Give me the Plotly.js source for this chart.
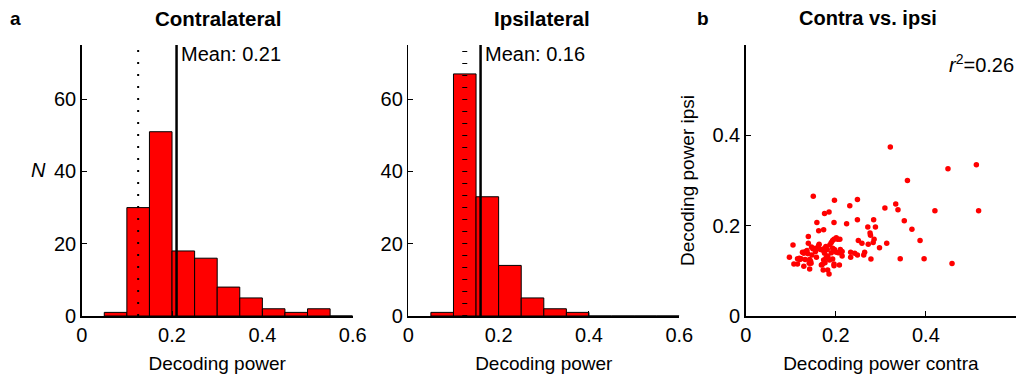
<!DOCTYPE html>
<html>
<head>
<meta charset="utf-8">
<script src="https://cdn.plot.ly/plotly-3.0.1.min.js"></script>
<style>html,body{margin:0;padding:0;background:#fff;}#chart{width:1019px;height:379px;}</style>
</head>
<body>
<div id="chart"></div>
<script>
// ---- data ----
const binCenters = [0.075, 0.125, 0.175, 0.225, 0.275, 0.325, 0.375, 0.425, 0.475, 0.525, 0.575];
const contraCounts = [1, 30, 51, 18, 16, 8, 5, 2, 1, 2, 0];
const ipsiCounts = [1, 67, 33, 14, 5, 2, 1, 0, 0, 0, 0];
const contraMean = 0.21;
const ipsiMean = 0.16;
const chanceLevel = 0.125;
const histTicksX = [0, 0.2, 0.4, 0.6];
const histTicksY = [0, 20, 40, 60];
const scatterTicks = [0, 0.2, 0.4];
const scatterContra = [0.321,0.449,0.512,0.359,0.150,0.197,0.248,0.231,0.333,0.309,0.338,0.420,0.517,0.175,0.185,0.158,0.196,0.224,0.248,0.284,0.352,0.271,0.288,0.369,0.162,0.173,0.276,0.277,0.387,0.285,0.250,0.258,0.272,0.283,0.313,0.297,0.105,0.139,0.139,0.343,0.396,0.458,0.278,0.233,0.233,0.242,0.248,0.262,0.264,0.214,0.214,0.208,0.196,0.196,0.185,0.182,0.172,0.170,0.097,0.107,0.115,0.120,0.123,0.129,0.126,0.132,0.138,0.142,0.141,0.145,0.142,0.146,0.149,0.155,0.157,0.163,0.166,0.172,0.175,0.178,0.181,0.178,0.182,0.187,0.190,0.193,0.196,0.201,0.204,0.209,0.193,0.186,0.193,0.197,0.201,0.162,0.147,0.132,0.115,0.173,0.119,0.136,0.144,0.155,0.175,0.182,0.210,0.206,0.168,0.129,0.190,0.176];
const scatterIpsi = [0.374,0.326,0.335,0.300,0.265,0.256,0.258,0.244,0.248,0.239,0.235,0.233,0.233,0.227,0.230,0.207,0.207,0.204,0.213,0.213,0.211,0.197,0.197,0.192,0.189,0.191,0.184,0.179,0.167,0.170,0.167,0.161,0.159,0.163,0.161,0.151,0.157,0.176,0.161,0.127,0.127,0.116,0.126,0.130,0.141,0.139,0.135,0.135,0.141,0.143,0.133,0.113,0.115,0.111,0.093,0.102,0.102,0.114,0.130,0.115,0.115,0.125,0.127,0.110,0.141,0.142,0.138,0.125,0.117,0.117,0.104,0.153,0.149,0.143,0.130,0.159,0.147,0.145,0.139,0.154,0.147,0.128,0.133,0.158,0.163,0.167,0.170,0.173,0.170,0.170,0.150,0.124,0.126,0.147,0.141,0.156,0.135,0.125,0.127,0.124,0.128,0.145,0.121,0.150,0.150,0.131,0.147,0.140,0.113,0.139,0.140,0.118];
const r2Text = '<i>r</i><sup>2</sup>=0.26';

const FONT = 'Liberation Sans, Arial, sans-serif';
const histTop = 75;

function histTrace(counts, xa, ya) {
  return {type: 'bar', x: binCenters, y: counts, width: 0.05, xaxis: xa, yaxis: ya,
    marker: {color: '#ff0000', line: {color: '#000', width: 1}}, hoverinfo: 'skip', showlegend: false};
}
function vline(x, xa, ya, dash, w) {
  return {type: 'scatter', mode: 'lines', x: [x, x], y: [0, histTop], xaxis: xa, yaxis: ya,
    line: {color: '#000', width: w, dash: dash}, hoverinfo: 'skip', showlegend: false};
}

const traces = [
  histTrace(contraCounts, 'x', 'y'),
  vline(chanceLevel, 'x', 'y', '2px,10px', 2),
  vline(contraMean, 'x', 'y', 'solid', 2.5),
  histTrace(ipsiCounts, 'x2', 'y2'),
  vline(chanceLevel, 'x2', 'y2', '1px,11px', 5),
  vline(ipsiMean, 'x2', 'y2', 'solid', 2.5),
  {type: 'scatter', mode: 'markers', x: scatterContra, y: scatterIpsi, xaxis: 'x3', yaxis: 'y3',
   marker: {color: '#ff0000', size: 5.5}, hoverinfo: 'skip', showlegend: false}
];

const W = 1019, H = 379;
const yDom = [1 - 316 / H, 1 - 45 / H];
function ax(dom, range, tickvals, extra) {
  return Object.assign({domain: dom, range: range, tickvals: tickvals, ticks: 'inside', ticklen: 5,
    tickwidth: 1, tickcolor: '#000', showline: true, linecolor: '#000', linewidth: 1.5,
    showgrid: false, zeroline: false, fixedrange: true,
    tickfont: {family: FONT, size: 20, color: '#000'}}, extra || {});
}
const axTitle = (t) => ({text: t, font: {family: FONT, size: 19, color: '#000'}, standoff: 12});

const layout = {
  width: W, height: H, margin: {l: 0, r: 0, t: 0, b: 0},
  paper_bgcolor: '#fff', plot_bgcolor: 'rgba(0,0,0,0)', bargap: 0,
  font: {family: FONT, color: '#000'},
  xaxis: ax([81.7 / W, 352.7 / W], [0, 0.6], histTicksX, {anchor: 'y', title: axTitle('Decoding power')}),
  yaxis: ax(yDom, [0, histTop], histTicksY, {anchor: 'x'}),
  xaxis2: ax([408.3 / W, 679.3 / W], [0, 0.6], histTicksX, {anchor: 'y2', title: axTitle('Decoding power')}),
  yaxis2: ax(yDom, [0, histTop], histTicksY, {anchor: 'x2'}),
  xaxis3: ax([745.7 / W, 1016 / W], [0, 0.6], scatterTicks, {anchor: 'y3', title: axTitle('Decoding power contra')}),
  yaxis3: ax(yDom, [0, 0.6], scatterTicks, {anchor: 'x3', title: axTitle('Decoding power ipsi')}),
  annotations: [
    {text: '<b>a</b>', xref: 'paper', yref: 'paper', x: 15 / W, y: 1 - 18 / H, xanchor: 'center', yanchor: 'middle', showarrow: false, font: {family: FONT, size: 19}},
    {text: '<b>b</b>', xref: 'paper', yref: 'paper', x: 703 / W, y: 1 - 18 / H, xanchor: 'center', yanchor: 'middle', showarrow: false, font: {family: FONT, size: 19}},
    {text: '<b>Contralateral</b>', xref: 'paper', yref: 'paper', x: 218 / W, y: 1 - 18 / H, xanchor: 'center', yanchor: 'middle', showarrow: false, font: {family: FONT, size: 20.5}},
    {text: '<b>Ipsilateral</b>', xref: 'paper', yref: 'paper', x: 542 / W, y: 1 - 18 / H, xanchor: 'center', yanchor: 'middle', showarrow: false, font: {family: FONT, size: 20.5}},
    {text: '<b>Contra vs. ipsi</b>', xref: 'paper', yref: 'paper', x: 868 / W, y: 1 - 18 / H, xanchor: 'center', yanchor: 'middle', showarrow: false, font: {family: FONT, size: 20}},
    {text: 'Mean: ' + contraMean.toFixed(2), xref: 'x', yref: 'paper', x: contraMean, xshift: 2, y: 1 - 54 / H, xanchor: 'left', yanchor: 'middle', showarrow: false, font: {family: FONT, size: 20}},
    {text: 'Mean: ' + ipsiMean.toFixed(2), xref: 'x2', yref: 'paper', x: ipsiMean, xshift: 2, y: 1 - 54 / H, xanchor: 'left', yanchor: 'middle', showarrow: false, font: {family: FONT, size: 20}},
    {text: '<i>N</i>', xref: 'paper', yref: 'paper', x: 38 / W, y: 1 - 170 / H, xanchor: 'center', yanchor: 'middle', showarrow: false, font: {family: FONT, size: 20}},
    {text: r2Text, xref: 'paper', yref: 'paper', x: 1016 / W, y: 1 - 63 / H, xanchor: 'right', yanchor: 'middle', showarrow: false, font: {family: FONT, size: 20}}
  ]
};

Plotly.newPlot('chart', traces, layout, {staticPlot: true, displayModeBar: false});
</script>
</body>
</html>
